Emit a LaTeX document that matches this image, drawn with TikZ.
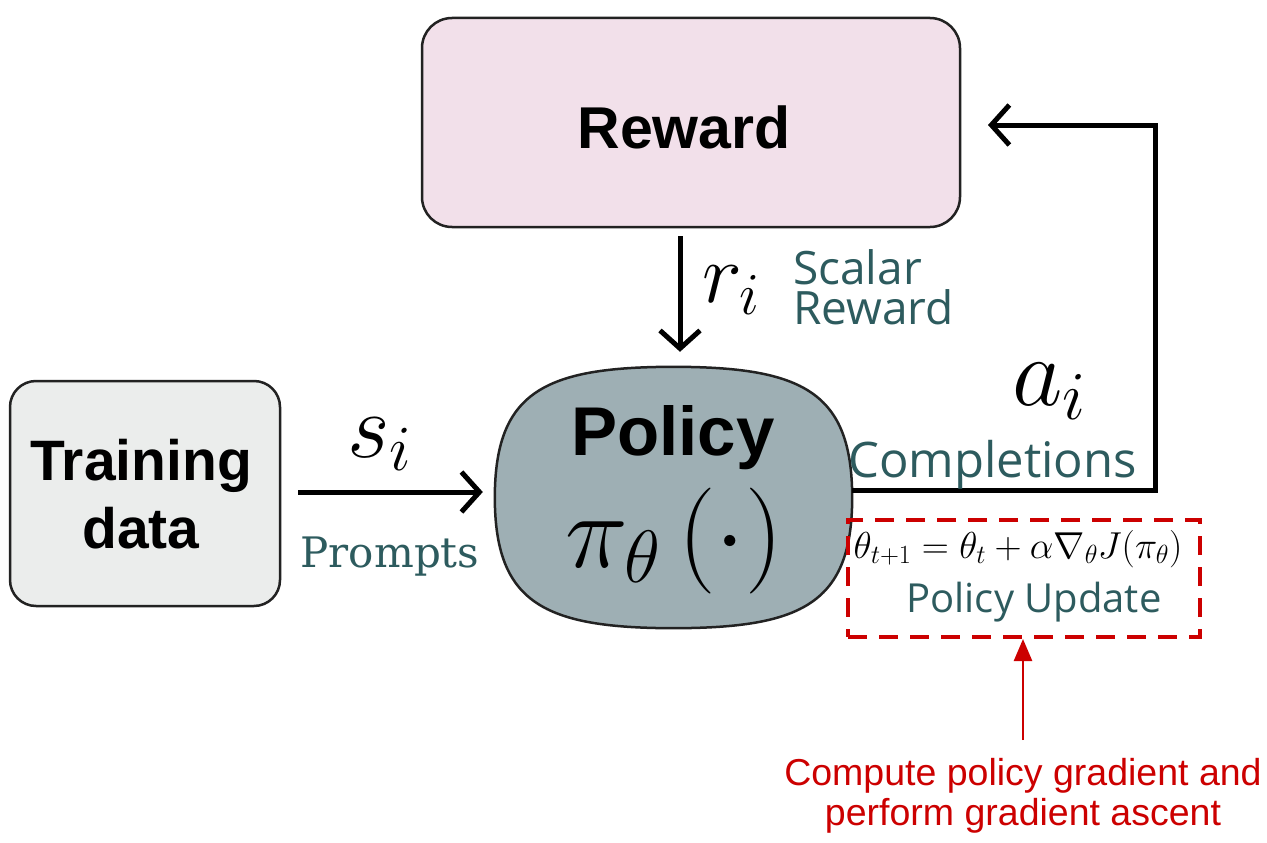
\RequirePackage{fix-cm}
\documentclass[tikz,border=0pt]{standalone}
\usepackage[no-math]{fontspec}
\setmainfont{Liberation Sans}
\newfontfamily\tealsans{Open Sans}
\newfontfamily\tealserif{DejaVu Serif}
\usetikzlibrary{arrows.meta}
\definecolor{tealtxt}{HTML}{2D5B5E}
\definecolor{rewardfill}{HTML}{F2E0EA}
\definecolor{trainfill}{HTML}{EBEDEC}
\definecolor{policyfill}{HTML}{9EAFB4}
\definecolor{redc}{HTML}{CC0000}
\definecolor{edgec}{HTML}{222222}
\tikzset{
  boxstyle/.style={draw=edgec, line width=2.5pt, inner sep=0pt},
  blk/.style={line width=5pt, black, line join=miter, -{Straight Barb[length=18pt,width=40pt,line width=5pt]}},
  bigbold/.style={font=\bfseries\fontsize{57}{60}\selectfont, anchor=base, inner sep=0pt},
  tealsmall/.style={font=\tealsans\fontsize{46}{48}\selectfont, text=tealtxt, anchor=base west, inner sep=0pt},
  redtxt/.style={font=\fontsize{37.5}{40}\selectfont, text=redc, anchor=base, inner sep=0pt},
}
\begin{document}
\begin{tikzpicture}[x=1pt,y=-1pt]
\useasboundingbox (0,0) rectangle (1267,843);
% boxes
\node[boxstyle, fill=rewardfill, minimum width=538pt, minimum height=209pt, rounded corners=30pt] (reward) at (691,122.5) {};
\node[boxstyle, fill=trainfill, minimum width=270pt, minimum height=225pt, rounded corners=26pt] (train) at (145,493.5) {};
% policy: squircle drawn as a path, node for anchors
\node[inner sep=0pt, minimum width=357pt, minimum height=261pt] (policy) at (673.5,497.5) {};
\draw[draw=edgec, line width=2.5pt, fill=policyfill]
  (policy.east) .. controls (852,392) and (803,367) .. (policy.north)
  .. controls (544,367) and (495,392) .. (policy.west)
  .. controls (495,603) and (544,628) .. (policy.south)
  .. controls (803,628) and (852,603) .. (policy.east) -- cycle;
% box labels
\node[bigbold, font=\bfseries\fontsize{59}{60}\selectfont] (rewardlbl) at (684,148) {Reward};
\node[bigbold] (trainl1) at (141,480) {Training};
\node[bigbold] (trainl2) at (141,548) {data};
\node[bigbold, font=\bfseries\fontsize{69}{70}\selectfont] (policylbl) at (673,455) {Policy};
\node[anchor=base, inner sep=0pt] (pimath) at (674,567) {\fontsize{106}{110}\selectfont$\pi_\theta\left(\cdot\right)$};
% connectors
\coordinate (dx) at (680,0);
\draw[blk, shorten <=8pt, shorten >=15pt] (reward.south -| dx) -- (policy.north -| dx);
\coordinate (ay) at (0,492);
\draw[blk, shorten <=17pt, shorten >=12pt] (train.east |- ay) -- (policy.west |- ay);
\coordinate (corner) at (1155,490);
\coordinate (rtip) at (988,125);
\draw[blk] (policy.east |- corner) -- (corner) |- (rtip);
% arrow labels
\node[anchor=base west, inner sep=0pt] (si) at (347,457) {\fontsize{92}{95}\selectfont$s_i$};
\node[anchor=base, inner sep=0pt, font=\tealserif\fontsize{42}{44}\selectfont, text=tealtxt] (prompts) at (390,567) {Prompts};
\node[anchor=base west, inner sep=0pt] (ri) at (702,302) {\fontsize{85}{90}\selectfont$r_i$};
\node[tealsmall] (scalar) at (793,284) {Scalar};
\node[tealsmall] (scalarrew) at (793,324) {Reward};
\node[anchor=base west, inner sep=0pt] (ai) at (1012,405) {\fontsize{98}{100}\selectfont$a_i$};
\node[tealsmall, font=\tealsans\fontsize{49}{50}\selectfont] (compl) at (848,477) {Completions};
% policy update box
\node[draw=redc, line width=4pt, dash pattern=on 19pt off 12pt, minimum width=352pt, minimum height=117pt, inner sep=0pt] (upd) at (1024,578.5) {};
\node[anchor=base, inner sep=0pt] (formula) at (1018,558) {\fontsize{37.5}{40}\selectfont$\theta_{t+1} = \theta_t + \alpha\nabla_\theta J(\pi_\theta)$};
\node[anchor=base, inner sep=0pt, font=\tealsans\fontsize{40}{42}\selectfont, text=tealtxt] (updlbl) at (1034,612) {Policy Update};
% red annotation
\node[redtxt] (red1) at (1023,785) {Compute policy gradient and};
\node[redtxt] (red2) at (1023,825) {perform gradient ascent};
\coordinate (rbase) at (1023,740);
\draw[redc, line width=2.5pt, -{Triangle[length=22pt,width=18pt]}] (rbase) -- (upd.south -| rbase);
\end{tikzpicture}
\end{document}
